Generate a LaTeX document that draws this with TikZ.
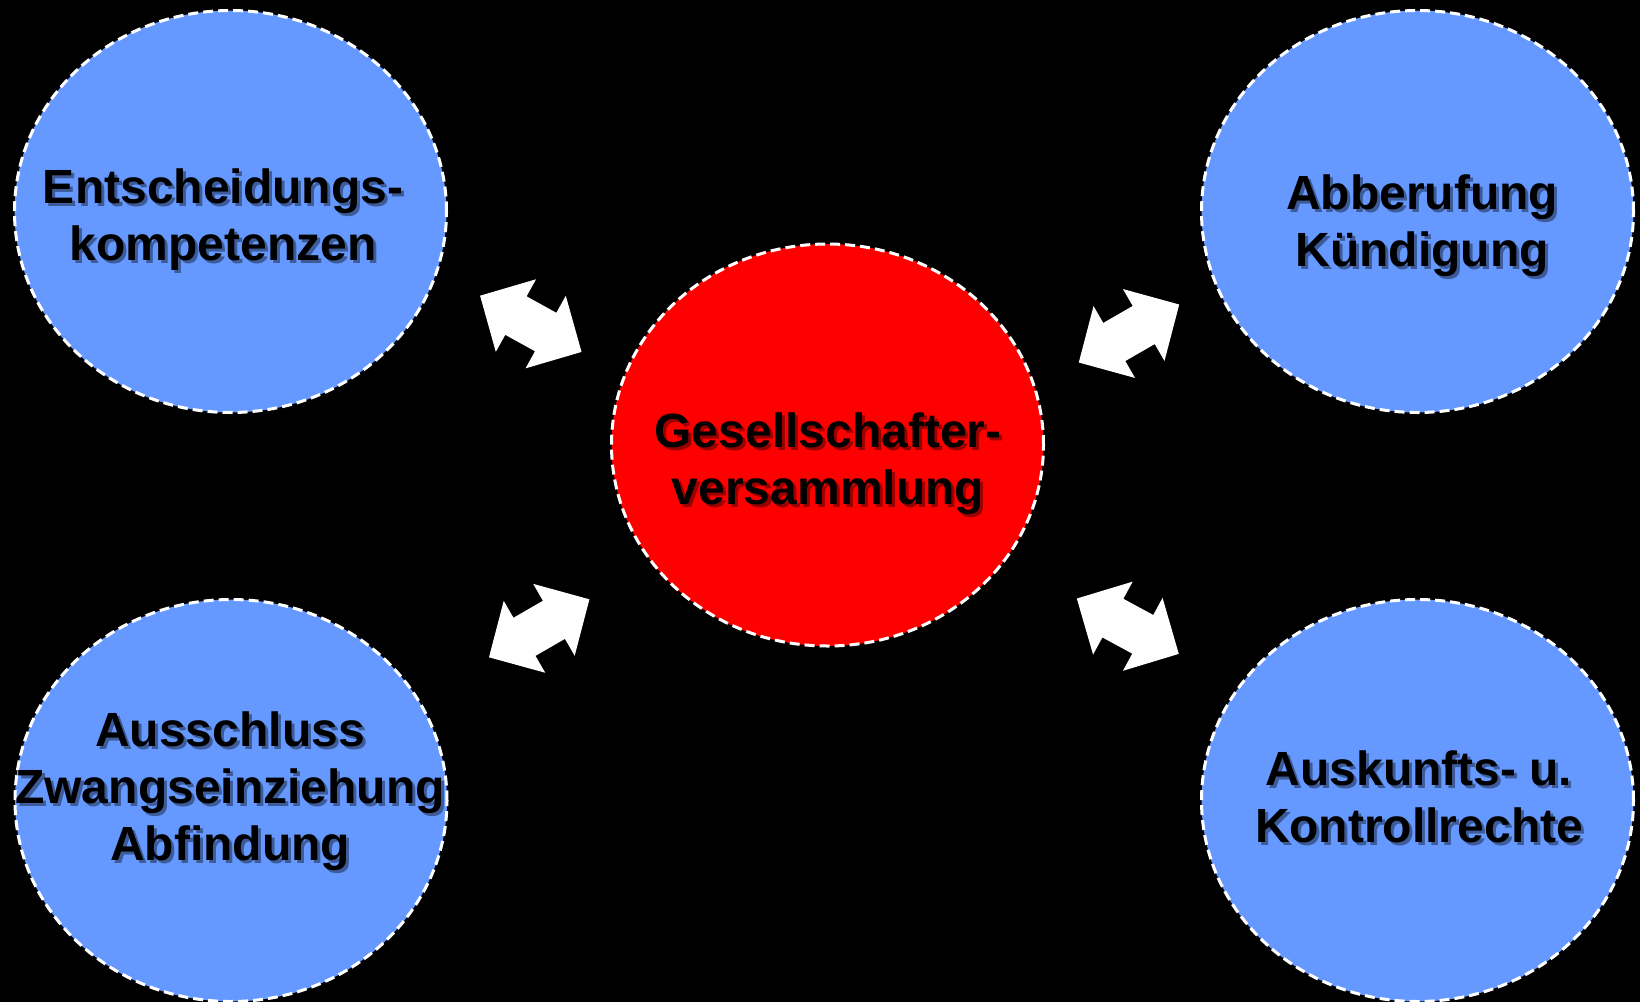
\documentclass[tikz,border=0pt]{standalone}
\usepackage{fontspec}
\setmainfont{Liberation Sans}
\usetikzlibrary{shapes.geometric}
\definecolor{bluefill}{RGB}{102,153,255}
\definecolor{redfill}{RGB}{255,0,0}
\tikzset{
  bubble/.style={ellipse, draw=white, line width=3pt, dash pattern=on 10pt off 5pt,
    minimum width=432pt, minimum height=402pt, inner sep=0pt},
  bluebubble/.style={bubble, fill=bluefill},
  redbubble/.style={bubble, fill=redfill},
  lbl/.style={align=center, inner sep=0pt, text=black,
    font=\fontsize{48}{57}\selectfont\bfseries},
  lblshadow/.style={lbl, text=black, text opacity=0.4},
  blockarrow/.style={fill=white, draw=none}
}
\newcommand{\dblarrow}[3]{%
  \path[blockarrow, shift={(#1,#2)}, rotate=#3]
    (-58,0) -- (-17,41.5) -- (-17,22) -- (17,22) -- (17,41.5) -- (58,0)
    -- (17,-41.5) -- (17,-22) -- (-17,-22) -- (-17,-41.5) -- cycle;}
\newcommand{\shadowlabel}[3]{%
  \node[lblshadow] (#1-s) at ([shift={(3,3)}]#2) {#3};
  \node[lbl] (#1) at (#2) {#3};}
\begin{document}
\begin{tikzpicture}[x=1pt,y=-1pt]
\useasboundingbox (0,0) rectangle (1640,1002);
\clip (0,0) rectangle (1640,1002);
\fill[black] (0,0) rectangle (1640,1002);

% bubbles
\node[bluebubble] (tl) at (230.5,211.5) {};
\node[bluebubble] (tr) at (1417.5,211.5) {};
\node[bluebubble] (bl) at (231,800.5) {};
\node[bluebubble] (br) at (1417.5,800.5) {};
\node[redbubble]  (c)  at (827.5,445) {};

% labels
\coordinate (tlp) at (223,220);
\coordinate (trp) at (1422,226);
\coordinate (blp) at (230,791);
\coordinate (brp) at (1419,797);
\coordinate (cp)  at (828,464);
\shadowlabel{tlt}{tlp}{Entscheidungs-\\kompetenzen}
\shadowlabel{trt}{trp}{Abberufung\\Kündigung}
\shadowlabel{blt}{blp}{Ausschluss\\Zwangseinziehung\\Abfindung}
\shadowlabel{brt}{brp}{Auskunfts- u.\\Kontrollrechte}
\shadowlabel{ct}{cp}{Gesellschafter-\\versammlung}

% double block arrows
\dblarrow{530.8}{323.8}{-29}
\dblarrow{1129}{333.5}{30}
\dblarrow{539.2}{628.3}{30}
\dblarrow{1127.8}{626.2}{-28.5}
\end{tikzpicture}
\end{document}
